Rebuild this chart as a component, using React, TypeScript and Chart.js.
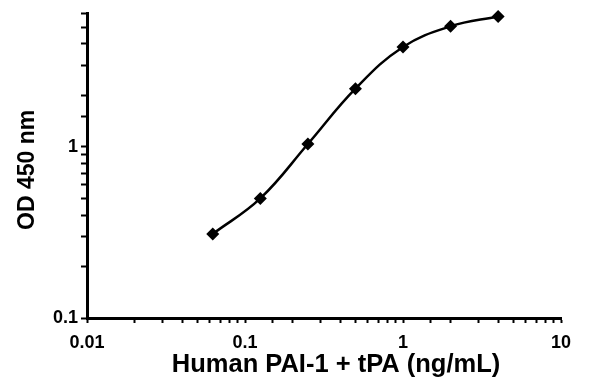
import React, { useEffect, useRef } from "react";
import { Chart, registerables } from "chart.js";

Chart.register(...registerables);

const concentrations = [0.0625, 0.125, 0.25, 0.5, 1, 2, 4];
const odValues = [0.31, 0.5, 1.04, 2.19, 3.84, 5.07, 5.79];
const xTickLabels = ["0.01", "0.1", "1", "10"];
const xTickValues = [0.01, 0.1, 1, 10];
const yTickLabels = ["0.1", "1"];
const yTickValues = [0.1, 1];

const FONT = "'Liberation Sans', Arial, sans-serif";

function labelFor(value: number, values: number[], labels: string[]) {
  for (let i = 0; i < values.length; i++) {
    if (Math.abs(Math.log10(value) - Math.log10(values[i])) < 1e-6) return labels[i];
  }
  return "";
}

function shiftTitle(s: any, dx: number, dy: number) {
  if (s._titleShifted) return;
  s._titleShifted = true;
  const orig = s.drawTitle;
  s.drawTitle = function (...args: any[]) {
    const ctx = this.ctx;
    ctx.save();
    ctx.translate(dx, dy);
    orig.apply(this, args);
    ctx.restore();
  };
}

export default function App() {
  const ref = useRef<HTMLCanvasElement | null>(null);

  useEffect(() => {
    if (!ref.current) return;
    const chart = new Chart(ref.current, {
      type: "line",
      data: {
        datasets: [
          {
            data: concentrations.map((x, i) => ({ x, y: odValues[i] })),
            borderColor: "#000",
            backgroundColor: "#000",
            borderWidth: 2.5,
            tension: 0.4,
            pointStyle: "rectRot",
            pointRadius: 6.5,
            pointBorderWidth: 0,
            fill: false,
            clip: false,
          },
        ],
      },
      options: {
        animation: false,
        responsive: false,
        layout: { padding: { top: 10, right: 39, left: 0, bottom: 0 } },
        plugins: { legend: { display: false }, tooltip: { enabled: false } },
        scales: {
          x: {
            type: "logarithmic",
            min: 0.01,
            max: 10,
            afterFit: (s: any) => {
              s.height = 67;
              shiftTitle(s, 12, 0);
            },
            border: { display: true, color: "#000", width: 3 },
            grid: {
              display: true,
              drawOnChartArea: false,
              drawTicks: true,
              tickLength: 5,
              tickWidth: 2,
              tickColor: "#000",
            },
            ticks: {
              autoSkip: false,
              maxRotation: 0,
              color: "#000",
              padding: 9,
              font: { family: FONT, size: 18, weight: "bold" },
              callback: (v: any) => labelFor(Number(v), xTickValues, xTickLabels),
            },
            title: {
              display: true,
              text: "Human PAI-1 + tPA (ng/mL)",
              color: "#000",
              font: { family: FONT, size: 25.5, weight: "bold" },
              padding: { top: 0, bottom: 5 },
            },
          },
          y: {
            type: "logarithmic",
            min: 0.1,
            max: 6,
            afterFit: (s: any) => {
              s.width = 87;
              shiftTitle(s, 0, 4);
            },
            border: { display: true, color: "#000", width: 3 },
            grid: {
              display: true,
              drawOnChartArea: false,
              drawTicks: true,
              tickLength: 6,
              tickWidth: 2,
              tickColor: "#000",
            },
            ticks: {
              autoSkip: false,
              color: "#000",
              padding: 3,
              font: { family: FONT, size: 18, weight: "bold" },
              callback: (v: any) => labelFor(Number(v), yTickValues, yTickLabels),
            },
            title: {
              display: true,
              text: "OD 450 nm",
              color: "#000",
              font: { family: FONT, size: 23, weight: "bold" },
              padding: { top: 14, bottom: 0 },
            },
          },
        },
      },
    });
    return () => chart.destroy();
  }, []);

  return (
    <canvas
      ref={ref}
      width={600}
      height={385}
      style={{ position: "absolute", left: 0, top: 0, width: 600, height: 385, display: "block" }}
    />
  );
}
